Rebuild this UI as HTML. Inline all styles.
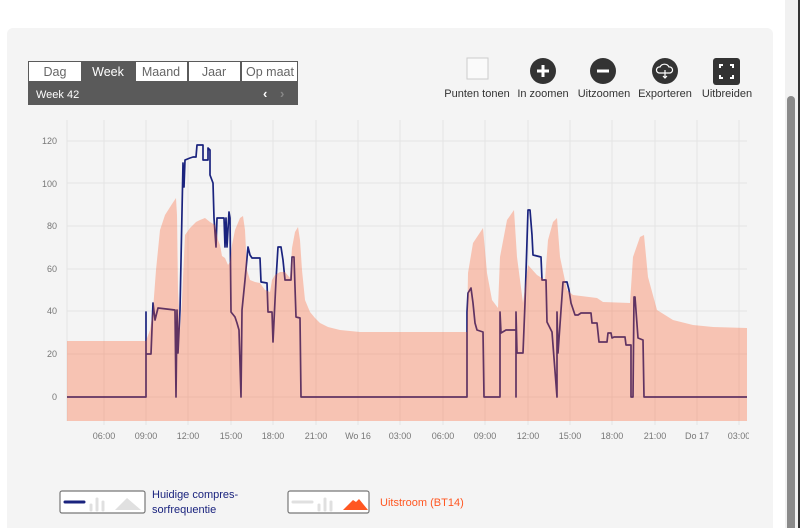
<!DOCTYPE html>
<html><head><meta charset="utf-8"><style>
html,body{margin:0;padding:0;width:800px;height:528px;overflow:hidden;background:#fff;font-family:"Liberation Sans",sans-serif;}
</style></head><body>
<svg width="800" height="528" xmlns="http://www.w3.org/2000/svg" font-family="Liberation Sans, sans-serif">
<defs><clipPath id="c"><rect x="0" y="0" width="749" height="528"/></clipPath></defs>
<rect x="7" y="28" width="766" height="510" rx="6" fill="#f4f4f4"/>
<rect x="785" y="0" width="15" height="528" fill="#f1f1f1"/>
<rect x="787" y="96" width="8" height="440" rx="4" fill="#8a8a8a"/>
<rect x="798" y="0" width="2" height="528" fill="#333"/>
<!-- tabs -->
<rect x="28" y="61" width="270" height="44" fill="#5a5a5a"/>
<rect x="29" y="62" width="52" height="19" fill="#fff"/>
<rect x="136" y="62" width="51" height="19" fill="#fff"/>
<rect x="189" y="62" width="51" height="19" fill="#fff"/>
<rect x="242" y="62" width="55" height="19" fill="#fff"/>
<g font-size="12.5" text-anchor="middle" fill="#666">
<text x="55" y="76">Dag</text><text x="108" y="76" fill="#fff">Week</text><text x="161" y="76">Maand</text><text x="214" y="76">Jaar</text><text x="270" y="76">Op maat</text>
</g>
<text x="36" y="98" font-size="11" fill="#fff">Week  42</text>
<text x="263" y="98" font-size="13" fill="#fff" font-weight="bold">‹</text>
<text x="280" y="98" font-size="13" fill="#888" font-weight="bold">›</text>
<!-- toolbar -->
<rect x="467" y="58" width="21" height="21" fill="#fafafa" stroke="#ccc"/>
<circle cx="543" cy="71" r="13" fill="#333"/><path d="M537 71h12M543 65v12" stroke="#fff" stroke-width="3"/>
<circle cx="603" cy="71" r="13" fill="#333"/><path d="M597 71h12" stroke="#fff" stroke-width="3"/>
<circle cx="665" cy="71" r="13" fill="#333"/><path d="M659 73a3 3 0 0 1 1-6a5 5 0 0 1 9 0a3 3 0 0 1 1 6z" fill="none" stroke="#fff" stroke-width="1.2"/><path d="M665 70v8m-2-2l2 2l2-2" fill="none" stroke="#fff" stroke-width="1.2"/>
<rect x="713" y="58" width="27" height="27" rx="3" fill="#333"/><path d="M720 68v-3h3M733 68v-3h-3M720 75v3h3M733 75v3h-3" fill="none" stroke="#fff" stroke-width="2"/>
<g font-size="11" text-anchor="middle" fill="#333">
<text x="477" y="97">Punten tonen</text><text x="543" y="97">In zoomen</text><text x="604" y="97">Uitzoomen</text><text x="665" y="97">Exporteren</text><text x="727" y="97">Uitbreiden</text>
</g>
<!-- grid -->
<g stroke="#e4e4e4" stroke-width="1">
<path d="M67 141H747M67 183H747M67 226H747M67 269H747M67 311H747M67 354H747M67 397H747"/>
<path d="M67 120V421M104 120V425M146 120V425M188 120V425M231 120V425M273 120V425M316 120V425M358 120V425M400 120V425M443 120V425M485 120V425M528 120V425M570 120V425M612 120V425M655 120V425M697 120V425M739 120V425"/>
</g>
<g font-size="9" fill="#777" text-anchor="end">
<text x="57" y="144">120</text><text x="57" y="187">100</text><text x="57" y="229">80</text><text x="57" y="272">60</text><text x="57" y="314">40</text><text x="57" y="357">20</text><text x="57" y="400">0</text>
</g>
<g font-size="9" fill="#777" text-anchor="middle" clip-path="url(#c)">
<text x="104" y="439">06:00</text><text x="146" y="439">09:00</text><text x="188" y="439">12:00</text><text x="231" y="439">15:00</text><text x="273" y="439">18:00</text><text x="316" y="439">21:00</text><text x="358" y="439">Wo 16</text><text x="400" y="439">03:00</text><text x="443" y="439">06:00</text><text x="485" y="439">09:00</text><text x="528" y="439">12:00</text><text x="570" y="439">15:00</text><text x="612" y="439">18:00</text><text x="655" y="439">21:00</text><text x="697" y="439">Do 17</text><text x="739" y="439">03:00</text>
</g>
<!-- line -->
<polyline fill="none" stroke="#1a237e" stroke-width="1.7" stroke-linejoin="round" points="67,397 146,397 146,312 146,354 151,354 153,303 155,320 158,308 175,310 176,397 177,310 178,353 180,310 183,163 184,187 185,160 190,158 193,157 196,157 197,145 203,145 203,160 208,160 208,148 210,150 210,175 213,183 214,218 216,247 217,218 224,218 225,247 226,218 227,247 229,212 230,218 231,312 235,317 237,323 239,330 241,397 242,310 245,280 248,247 250,255 252,258 260,258 261,282 267,283 268,312 272,312 273,342 276,280 278,247 281,247 283,260 285,280 291,280 292,257 294,257 296,317 300,318 301,397 467,397 467,312 468,293 471,288 473,303 475,323 477,330 483,332 484,397 500,397 500,312 501,333 506,330 516,330 516,397 516,312 517,353 523,353 525,303 528,210 530,210 532,235 533,255 541,257 542,280 546,280 547,322 552,332 557,397 557,312 558,353 563,282 567,282 569,290 571,303 575,315 578,315 581,313 591,313 592,323 597,323 599,342 607,342 608,333 611,333 612,338 614,337 625,337 626,345 631,345 631,397 633,397 634,297 635,297 638,338 643,340 644,397 747,397"/>
<!-- area -->
<polygon fill="#ff5722" fill-opacity="0.31" points="67,421 67,341 146,341 150,330 153,310 156,270 160,230 165,215 172,204 176,198 177,215 178,290 180,330 182,300 185,235 190,228 196,222 200,220 205,218 210,222 215,225 218,240 220,245 222,256 225,258 228,265 230,262 232,245 235,230 240,218 243,216 245,230 247,270 250,280 255,282 260,283 265,290 270,292 272,280 275,275 280,272 285,272 290,278 292,248 295,232 298,227 300,240 302,270 305,300 310,312 315,318 320,323 328,327 340,330 360,332 467,332 468,273 473,243 483,228 487,273 492,300 498,308 500,257 507,220 514,210 517,257 523,303 528,265 537,275 545,280 548,240 553,222 557,218 560,257 567,290 573,295 597,298 603,302 630,303 633,257 640,237 644,235 648,277 657,310 673,320 693,325 713,327 747,328 747,421"/>
<!-- legend -->
<rect x="60" y="491" width="85" height="22" rx="2" fill="#fff" stroke="#777" stroke-width="1.2"/>
<path d="M65 502H84" stroke="#1a237e" stroke-width="3" stroke-linecap="round"/>
<path d="M91 505v5M97 499v11M103 502v8" stroke="#e0e0e0" stroke-width="3" stroke-linecap="round"/>
<path d="M115 510l12-12l14 12z" fill="#e0e0e0"/>
<text x="152" y="498" font-size="11" fill="#1a237e">Huidige compres-</text>
<text x="152" y="513" font-size="11" fill="#1a237e">sorfrequentie</text>
<rect x="288" y="491" width="81" height="22" rx="2" fill="#fff" stroke="#777" stroke-width="1.2"/>
<path d="M293 502H312" stroke="#e0e0e0" stroke-width="3" stroke-linecap="round"/>
<path d="M319 505v5M325 499v11M331 502v8" stroke="#e0e0e0" stroke-width="3" stroke-linecap="round"/>
<path d="M343 510l10-10l3 2l3-3l9 11z" fill="#ff5722"/>
<text x="380" y="506" font-size="11" fill="#ff5722">Uitstroom (BT14)</text>
</svg>
</body></html>
